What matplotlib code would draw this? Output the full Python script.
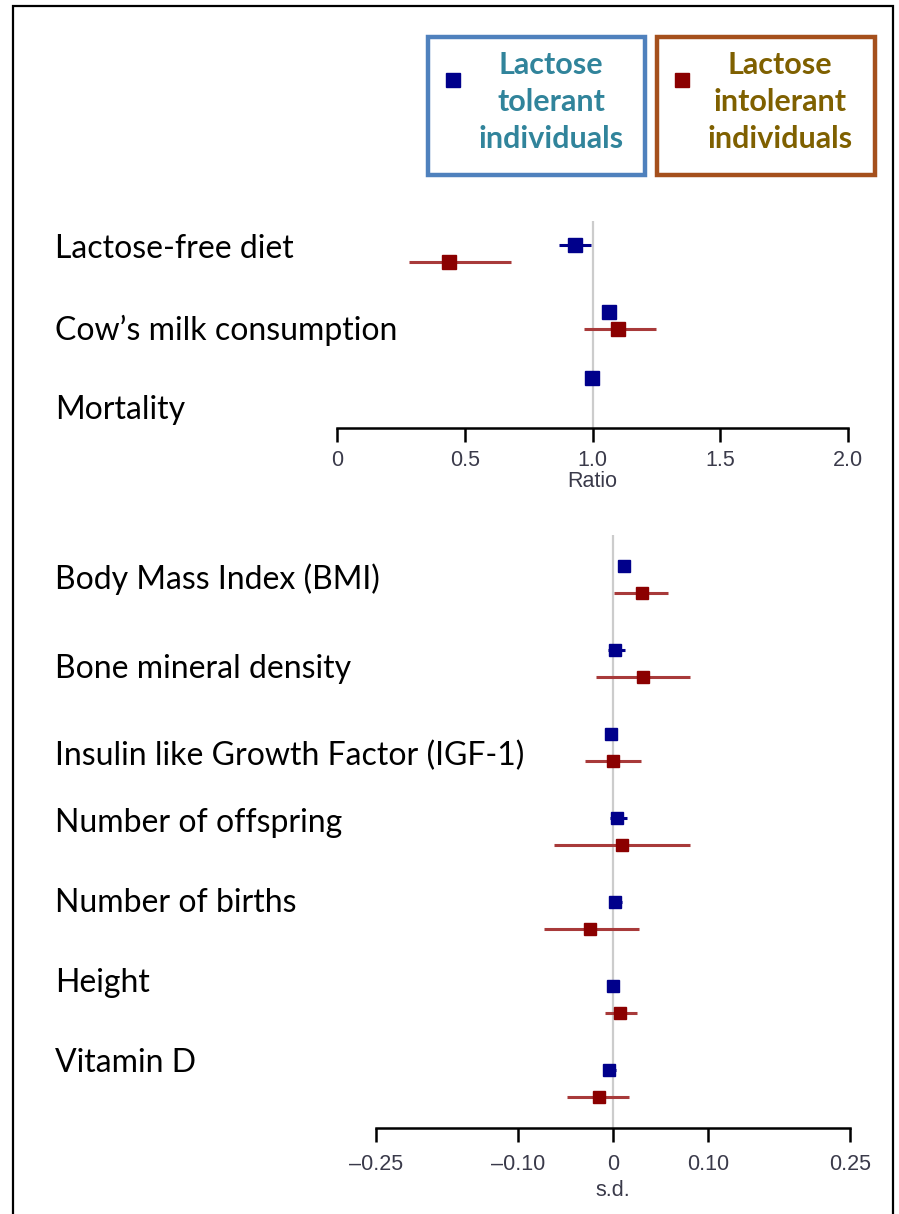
import numpy as np
import matplotlib.pyplot as plt
from matplotlib.patches import Rectangle

# ratio outcomes (top panel)
ratio_labels = ['Lactose-free diet', 'Cow\u2019s milk consumption', 'Mortality']
ratio_tol = [0.93, 1.064, 0.997]
ratio_tol_lo = [0.869, 1.05, 0.97]
ratio_tol_hi = [0.993, 1.078, 1.02]
ratio_int = [0.44, 1.098, np.nan]
ratio_int_lo = [0.283, 0.967, np.nan]
ratio_int_hi = [0.680, 1.248, np.nan]

# standardised outcomes (bottom panel)
sd_labels = ['Body Mass Index (BMI)', 'Bone mineral density',
             'Insulin like Growth Factor (IGF-1)', 'Number of offspring',
             'Number of births', 'Height', 'Vitamin D']
sd_tol = [0.012, 0.002, -0.002, 0.004, 0.002, 0.0, -0.004]
sd_tol_lo = [0.008, -0.005, -0.006, -0.003, -0.004, -0.004, -0.011]
sd_tol_hi = [0.016, 0.013, 0.002, 0.015, 0.009, 0.004, 0.003]
sd_int = [0.031, 0.032, 0.0, 0.010, -0.024, 0.007, -0.015]
sd_int_lo = [0.001, -0.018, -0.030, -0.062, -0.073, -0.008, -0.049]
sd_int_hi = [0.058, 0.081, 0.030, 0.081, 0.027, 0.025, 0.017]

BLUE = '#00008b'
RED = '#8b0000'
W, H = 899, 1214
TICKFONT = dict(family='Liberation Sans', fontsize=15.5, color='#3a3a4a')

fig = plt.figure(figsize=(W / 100, H / 100), dpi=100)
fig.patch.set_facecolor('white')


def box(l, t, r, b):
    return [l / W, 1 - b / H, (r - l) / W, (b - t) / H]


def panel(ax, est1, lo1, hi1, est2, lo2, hi2, off, ms, refx, pad):
    n = len(est1)
    y = np.arange(n)
    ax.axvline(refx, color='#cccccc', lw=1.6, zorder=0)
    e1 = np.array(est1); e2 = np.array(est2)
    ax.errorbar(e1, y - off, xerr=[e1 - np.array(lo1), np.array(hi1) - e1],
                fmt='s', color=BLUE, ecolor=BLUE, elinewidth=2.2, ms=ms,
                capsize=0, zorder=3)
    ax.errorbar(e2, y + off, xerr=[e2 - np.array(lo2), np.array(hi2) - e2],
                fmt='s', color=RED, ecolor='#a83a3a', elinewidth=2.2, ms=ms,
                capsize=0, zorder=3)
    for s in ['top', 'left', 'right']:
        ax.spines[s].set_visible(False)
    ax.spines['bottom'].set_linewidth(1.8)
    ax.set_yticks([])
    ax.tick_params(axis='x', direction='out', length=10, width=1.8, pad=pad)
    ax.set_facecolor('none')


# top panel
ax1 = fig.add_axes(box(337, 221, 848, 428))
panel(ax1, ratio_tol, ratio_tol_lo, ratio_tol_hi,
      ratio_int, ratio_int_lo, ratio_int_hi, 0.128, 9.5, 1.0, 6)
ax1.set_xlim(0, 2)
ax1.set_ylim(2.624, -0.489)
ax1.set_xticks([0, 0.5, 1.0, 1.5, 2.0])
ax1.set_xticklabels(['0', '0.5', '1.0', '1.5', '2.0'], **TICKFONT)
ax1.spines['bottom'].set_bounds(0, 2)
ax1.set_xlabel('Ratio', labelpad=0, **TICKFONT)

# bottom panel
ax2 = fig.add_axes(box(376, 535, 850, 1128))
panel(ax2, sd_tol, sd_tol_lo, sd_tol_hi,
      sd_int, sd_int_lo, sd_int_hi, 0.16, 8, 0.0, 9)
ax2.set_xlim(-0.25, 0.25)
ax2.set_ylim(6.53, -0.53)
ax2.set_xticks([-0.25, -0.10, 0, 0.10, 0.25])
ax2.set_xticklabels(['\u20130.25', '\u20130.10', '0', '0.10', '0.25'], **TICKFONT)
ax2.spines['bottom'].set_bounds(-0.25, 0.25)
ax2.set_xlabel('s.d.', labelpad=3, **TICKFONT)

# row labels
label_font = dict(family='Lato', fontsize=23, color='black', va='center', ha='left')
for lab, yp in zip(ratio_labels, [249, 330, 410]):
    fig.text(55 / W, 1 - yp / H, lab, **label_font)
for lab, yp in zip(sd_labels, [579, 669, 756, 823, 903, 983, 1063]):
    fig.text(55 / W, 1 - yp / H, lab, **label_font)

# legend boxes
for (l, r, edge, mcol, tcol, txt) in [
        (428, 645, '#4f81bd', BLUE, '#31849b', 'Lactose\ntolerant\nindividuals'),
        (657, 875, '#a5501c', RED, '#7f6000', 'Lactose\nintolerant\nindividuals')]:
    fig.patches.append(Rectangle((l / W, 1 - 175 / H), (r - l) / W, 138 / H,
                                 transform=fig.transFigure, fill=False,
                                 edgecolor=edge, lw=3.2))
    fig.patches.append(Rectangle(((l + 18) / W, 1 - 87 / H), 14 / W, 14 / H,
                                 transform=fig.transFigure, color=mcol))
    fig.text((l + 123) / W, 1 - 102 / H, txt, ha='center', va='center',
             family='Lato', fontweight='bold', fontsize=22, color=tcol,
             linespacing=1.38)

# outer frame
fig.patches.append(Rectangle((13 / W, -0.01), 880 / W, 1 - 6 / H + 0.01,
                             transform=fig.transFigure, fill=False,
                             edgecolor='black', lw=1.6))

fig.savefig('out.png', dpi=100)
